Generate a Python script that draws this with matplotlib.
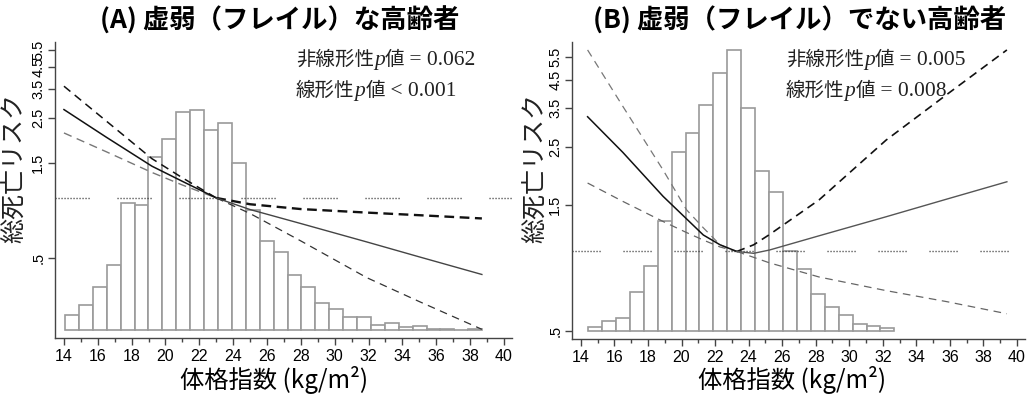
import matplotlib
matplotlib.use("Agg")
import matplotlib.pyplot as plt
import numpy as np
from matplotlib.offsetbox import TextArea, HPacker, VPacker, AnnotationBbox

plt.rcParams['lines.scale_dashes'] = False
plt.rcParams['font.family'] = ['Liberation Sans', 'Noto Sans CJK JP']

# panel titles / p values
titles = ["(A) 虚弱（フレイル）な高齢者", "(B) 虚弱（フレイル）でない高齢者"]
nonlin_p = ["= 0.062", "= 0.005"]
lin_p = ["< 0.001", "= 0.008"]

# BMI distribution (% per bin)
bin_start_a = 14.06
bin_width_a = 0.822
pct_a = [0.68, 1.12, 1.91, 2.90, 5.62, 5.53, 7.66, 8.45, 9.67, 9.75,
         8.85, 9.19, 7.39, 5.32, 3.95, 3.47, 2.45, 1.89, 1.18, 0.93,
         0.56, 0.56, 0.21, 0.30, 0.15, 0.18, 0.04, 0.04, 0.0, 0.04]
bin_start_b = 14.43
bin_width_b = 0.830
pct_b = [0.16, 0.44, 0.60, 1.83, 3.04, 5.16, 8.40, 9.26, 10.61, 12.08,
         13.17, 10.44, 7.51, 6.49, 3.74, 2.88, 1.71, 1.10, 0.72, 0.30,
         0.22, 0.14]

# spline HR (reference BMI where HR = 1)
ref_a = 23.0
bmi_a = [14.0, 16.5, 19.2, 21.0, 23.0, 25.0, 28.0, 31.9, 35.0, 38.7]
hr_a = [2.76, 2.01, 1.44, 1.21, 1.00, 0.875, 0.745, 0.603, 0.508, 0.415]
hi_a = [3.61, 2.42, 1.57, 1.26, 1.00, 0.93, 0.88, 0.845, 0.82, 0.79]
lo_a = [2.11, 1.70, 1.34, 1.16, 1.00, 0.836, 0.61, 0.40, 0.304, 0.221]

ref_b = 23.3
bmi_b = [14.4, 16.5, 18.9, 20.3, 21.3, 22.3, 23.3, 24.3, 25.25, 28.2, 32.2, 35.8, 39.4]
hr_b = [3.25, 2.38, 1.62, 1.33, 1.155, 1.06, 1.0, 0.984, 1.013, 1.147, 1.355, 1.58, 1.84]
hi_b = [5.83, 3.56, 2.04, 1.44, 1.23, 1.06, 1.0, 1.06, 1.16, 1.57, 2.65, 3.94, 5.83]
lo_b = [1.82, 1.55, 1.30, 1.18, 1.105, 1.04, 1.0, 0.95, 0.905, 0.80, 0.71, 0.645, 0.58]

hr_ticks = [0.5, 1.5, 2.5, 3.5, 4.5, 5.5]
hr_ticklabels = [".5", "1.5", "2.5", "3.5", "4.5", "5.5"]

W, H = 1028, 396
fig = plt.figure(figsize=(W / 100, H / 100), dpi=100)


def px_rect(l, t, r, b):
    return [l / W, 1 - b / H, (r - l) / W, (b - t) / H]


def dots(seg_px, gap_px):
    # dotted segment followed by a gap (Stata-like reference line)
    n = int(seg_px / 3)
    pat = [0.8, 1.36] * (n - 1) + [0.8, gap_px * 0.72 + 1.36]
    return (0, pat)


panels = [
    dict(rect=px_rect(55, 42, 512, 338), ylim=(0.2, 6.0), hlim=(-0.355, 12.77),
         start=bin_start_a, width=bin_width_a, pct=pct_a, ref=ref_a,
         x=bmi_a, hr=hr_a, hi=hi_a, lo=lo_a, dot=dots(38, 26),
         left_styles=dict(hr=('#111111', 1.1, '-'), hi=('#111111', 1.1, (0, (6, 4))),
                          lo=('#777777', 1.0, (0, (6, 4)))),
         right_styles=dict(hr=('#444444', 1.0, '-'), hi=('#111111', 1.7, (0, (7, 4))),
                           lo=('#333333', 0.9, (0, (5.5, 4)))),
         title_x=280, xlab_x=274, ylab_x=14, note_x=296),
    dict(rect=px_rect(572, 42, 1025, 339), ylim=(0.465, 6.25), hlim=(-0.39, 13.55),
         start=bin_start_b, width=bin_width_b, pct=pct_b, ref=ref_b,
         x=bmi_b, hr=hr_b, hi=hi_b, lo=lo_b, dot=dots(32, 21),
         left_styles=dict(hr=('#111111', 1.1, '-'), hi=('#777777', 0.9, (0, (5.5, 4))),
                          lo=('#666666', 0.9, (0, (5.5, 4)))),
         right_styles=dict(hr=('#555555', 1.0, '-'), hi=('#111111', 1.2, (0, (6, 4))),
                           lo=('#666666', 0.9, (0, (5.5, 4)))),
         title_x=800, xlab_x=792, ylab_x=535, note_x=786),
]

for i, p in enumerate(panels):
    axh = fig.add_axes(p['rect'], zorder=0)
    ax = fig.add_axes(p['rect'], zorder=1)
    ax.patch.set_visible(False)

    # histogram
    edges = p['start'] + p['width'] * np.arange(len(p['pct']))
    axh.bar(edges, p['pct'], width=p['width'], align='edge', color='white',
            edgecolor='#9a9a9a', linewidth=1.2)
    axh.set_xlim(13.47, 40.48)
    axh.set_ylim(*p['hlim'])
    axh.axis('off')

    # reference line at HR = 1
    ax.axhline(1.0, color='#333333', lw=1.0, linestyle=p['dot'])

    x = np.array(p['x'])
    left = x <= p['ref']
    right = x >= p['ref']
    for key in ['lo', 'hi', 'hr']:
        y = np.array(p[key])
        c, lw, ls = p['left_styles'][key]
        ax.plot(x[left], y[left], color=c, lw=lw, linestyle=ls)
        c, lw, ls = p['right_styles'][key]
        ax.plot(x[right], y[right], color=c, lw=lw, linestyle=ls)

    ax.set_yscale('log')
    ax.set_ylim(*p['ylim'])
    ax.set_xlim(13.47, 40.48)
    ax.set_yticks(hr_ticks)
    ax.set_yticklabels(hr_ticklabels, rotation=90, va='center', fontsize=10.5)
    ax.yaxis.set_minor_locator(matplotlib.ticker.NullLocator())
    ax.set_xticks(np.arange(14, 41, 2))
    ax.set_xticks(np.arange(15, 40, 2), minor=True)
    ax.tick_params(axis='x', labelsize=11.5, length=5, width=1, color='#444444', pad=3)
    ax.tick_params(axis='x', which='minor', length=3, width=1, color='#444444')
    ax.tick_params(axis='y', length=5, width=1, color='#444444', pad=2)
    for s in ['top', 'right']:
        ax.spines[s].set_visible(False)
    for s in ['left', 'bottom']:
        ax.spines[s].set_color('#444444')
        ax.spines[s].set_linewidth(1.0)

    # titles and axis labels
    fig.text(p['title_x'] / W, 1 - 21 / H, titles[i], ha='center', va='center',
             fontsize=19, fontweight='bold', family=['Noto Sans CJK JP'])
    fig.text(p['xlab_x'] / W, 1 - 380 / H, '体格指数 (kg/m²)', ha='center', va='center',
             fontsize=17.5, family=['Noto Sans CJK JP'])
    fig.text(p['ylab_x'] / W, 1 - 168 / H, '総死亡リスク', ha='center', va='center',
             rotation=90, fontsize=18, family=['Noto Sans CJK JP'], color='#222222')

    # p value notes
    cjk = dict(family=['Noto Sans CJK JP'], fontsize=14, color='#222222')
    ser = dict(family=['Liberation Serif'], fontsize=15.5, color='#222222')
    ita = dict(family=['Liberation Serif'], fontsize=15.5, style='italic', color='#222222')
    line1 = HPacker(children=[TextArea('非線形性', textprops=cjk), TextArea('p', textprops=ita),
                              TextArea('値', textprops=cjk), TextArea(' ' + nonlin_p[i], textprops=ser)],
                    align='baseline', pad=0, sep=0)
    line2 = HPacker(children=[TextArea('線形性', textprops=cjk), TextArea('p', textprops=ita),
                              TextArea('値', textprops=cjk), TextArea(' ' + lin_p[i], textprops=ser)],
                    align='baseline', pad=0, sep=0)
    box = VPacker(children=[line1, line2], align='left', pad=0, sep=7)
    ab = AnnotationBbox(box, (p['note_x'], H - 49), xycoords='figure pixels',
                        box_alignment=(0, 1), frameon=False, pad=0)
    fig.add_artist(ab)

fig.savefig('out.png', dpi=100)
